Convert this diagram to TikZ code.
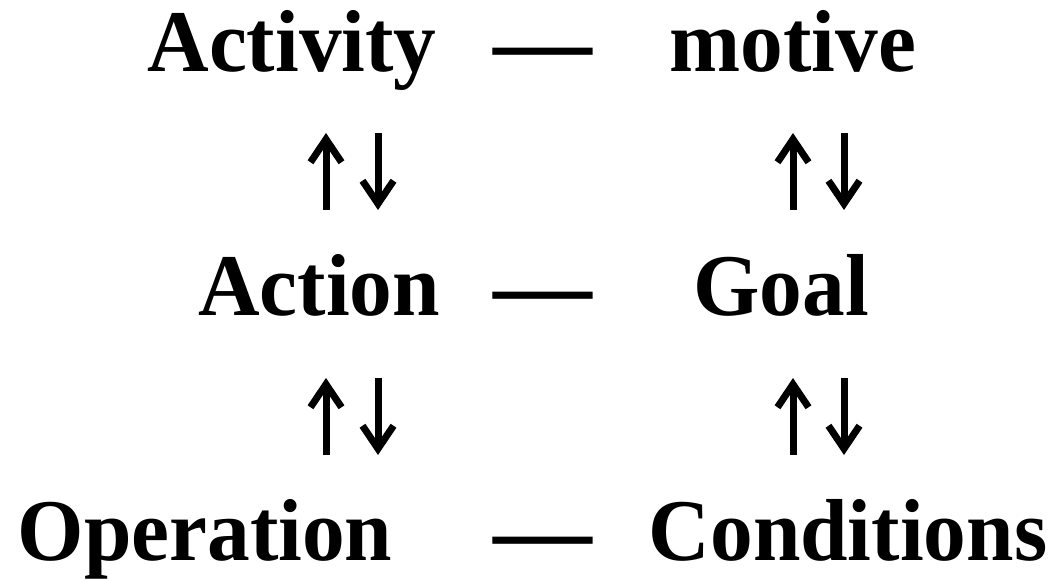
\documentclass[tikz,border=0pt]{standalone}
\usepackage{fontspec}
\setmainfont{Liberation Serif}[FakeStretch=0.97]
\usetikzlibrary{arrows.meta}
\begin{document}
\begin{tikzpicture}[x=1pt,y=1pt,
  word/.style={inner sep=0pt, anchor=base, font=\fontsize{88}{96}\selectfont\bfseries},
  dashtext/.style={inner sep=0pt, anchor=base, font=\fontsize{102}{110}\selectfont\bfseries},
  vert/.style={line width=7pt, -{Straight Barb[length=23pt,width=31pt]}, miter limit=20}]
\useasboundingbox (0,0) rectangle (1052,579);
% row 1
\node[word] (activity) at (292,507) {Activity};
\node[dashtext] (dash1) at (543,503) {—};
\node[word] (motive) at (793,507) {motive};
% row 3
\node[word] (action) at (319,263) {Action};
\node[dashtext] (dash2) at (543,259) {—};
\node[word] (goal) at (781,263) {Goal};
% row 5
\node[word] (operation) at (205,19) {Operation};
\node[dashtext] (dash3) at (543,15) {—};
\node[word] (conditions) at (848,19) {Conditions};
% arrow end points
\coordinate (u1s) at (326,369); \coordinate (u1e) at (326,446);
\coordinate (d1s) at (378,446); \coordinate (d1e) at (378,369);
\coordinate (u2s) at (793,369); \coordinate (u2e) at (793,446);
\coordinate (d2s) at (844,446); \coordinate (d2e) at (844,369);
\coordinate (u3s) at (326,124); \coordinate (u3e) at (326,201);
\coordinate (d3s) at (378,201); \coordinate (d3e) at (378,124);
\coordinate (u4s) at (793,124); \coordinate (u4e) at (793,201);
\coordinate (d4s) at (844,201); \coordinate (d4e) at (844,124);
\draw[vert] (u1s) -- (u1e);
\draw[vert] (d1s) -- (d1e);
\draw[vert] (u2s) -- (u2e);
\draw[vert] (d2s) -- (d2e);
\draw[vert] (u3s) -- (u3e);
\draw[vert] (d3s) -- (d3e);
\draw[vert] (u4s) -- (u4e);
\draw[vert] (d4s) -- (d4e);
\end{tikzpicture}
\end{document}
